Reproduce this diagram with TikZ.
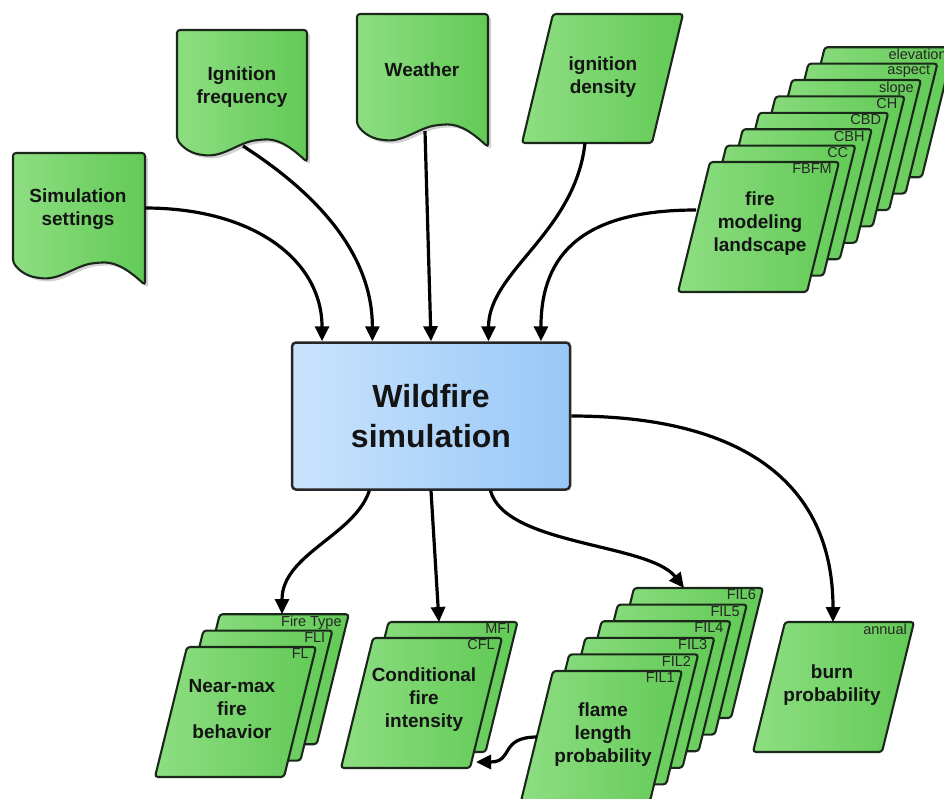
\documentclass[tikz,border=0pt]{standalone}
\usepackage{fontspec}
\setmainfont{Liberation Sans}
\usetikzlibrary{arrows.meta,calc,shadows}
\definecolor{gL}{RGB}{142,222,130}
\definecolor{gR}{RGB}{98,202,86}
\definecolor{edgec}{RGB}{26,40,26}
\definecolor{bL}{RGB}{202,227,252}
\definecolor{bR}{RGB}{152,200,248}
\tikzset{
 sheetfill/.style={draw=edgec, line width=2.1pt, rounded corners=3pt, left color=gL, right color=gR},
 docfill/.style={sheetfill, drop shadow={opacity=0.35, shadow xshift=3pt, shadow yshift=-3pt}},
 title/.style={font=\fontsize{19}{23}\selectfont\bfseries, align=center, text=black!92},
 wfbox/.style={draw=black!85, line width=2.5pt, rounded corners=4pt, left color=bL, right color=bR,
   minimum width=278pt, minimum height=147pt, inner sep=0pt,
   font=\fontsize{32}{40}\selectfont\bfseries, align=center, text=black!92},
 tag/.style={font=\fontsize{14.5}{15}\selectfont, anchor=north east, inner sep=0pt, text=black!85},
 conn/.style={line width=3.2pt, -{Triangle[length=15pt,width=14pt]}},
}
% parallelogram sheet: top-left x, y, label
\newcommand\sheetat[3]{%
 \draw[sheetfill] ({#1},{#2}) -- ++(129,0) -- ++(-32,130) -- ++(-129,0) -- cycle;
 \node[tag] at ({#1+129-7},{#2+1.5}) {#3};}
% document shape: x, y, w, h
\newcommand\docat[4]{%
 \path[docfill] ({#1},{#2+#4-23}) -- ({#1},{#2}) -- ({#1+#3},{#2}) -- ({#1+#3},{#2+#4})
  .. controls ({#1+0.85*#3},{#2+#4-18}) and ({#1+0.76*#3},{#2+#4-24}) .. ({#1+0.63*#3},{#2+#4-22})
  .. controls ({#1+0.48*#3},{#2+#4-20}) and ({#1+0.36*#3},{#2+#4-5}) .. ({#1+0.2*#3},{#2+#4-7})
  .. controls ({#1+0.1*#3},{#2+#4-9}) and ({#1+0.04*#3},{#2+#4-15}) .. ({#1},{#2+#4-23}) -- cycle;}
\begin{document}
\begin{tikzpicture}[x=1pt,y=-1pt]
\useasboundingbox (0,0) rectangle (944,798);
\clip (0,0) rectangle (944,798);
\fill[white] (0,0) rectangle (944,798);

% input documents
\docat{13}{153}{132}{132}
\node[title] (sim) at (78,209) {Simulation\\settings};
\docat{177}{30}{130}{132}
\node[title] (ifq) at (242,87) {Ignition\\frequency};
\docat{357}{14}{131}{133}
\node[title] (wea) at (422,70) {Weather};

% ignition density
\draw[sheetfill] (553,14) -- ++(130,0) -- ++(-31,129) -- ++(-130,0) -- cycle;
\node[title] (ide) at (603,77) {ignition\\density};

% landscape stack
\foreach \k/\lab in {7/elevation,6/aspect,5/slope,4/CH,3/CBD,2/CBH,1/CC,0/FBFM}
  {\sheetat{710+16.4*\k}{162-16.4*\k}{\lab}}
\node[title] (lan) at (760,224) {fire\\modeling\\landscape};

% central box
\node[wfbox] (wf) at (431,416) {Wildfire\\simulation};

% output stacks
\foreach \k/\lab in {2/Fire Type,1/FLI,0/FL}
  {\sheetat{187+16.4*\k}{647-16.4*\k}{\lab}}
\node[title] (nmx) at (232,709) {Near-max\\fire\\behavior};

\foreach \k/\lab in {1/MFI,0/CFL}
  {\sheetat{373+15.5*\k}{638-16*\k}{\lab}}
\node[title] (cfi) at (424,700) {Conditional\\fire\\intensity};

\foreach \k/\lab in {5/FIL6,4/FIL5,3/FIL4,2/FIL3,1/FIL2,0/FIL1}
  {\sheetat{553+16.2*\k}{671-16.6*\k}{\lab}}
\node[title] (flp) at (603,735) {flame\\length\\probability};

\sheetat{785}{622}{annual}
\node[title] (bup) at (832,685) {burn\\probability};

% connector end points
\coordinate (simE) at (145,208);
\coordinate (ifqS) at (243,146);
\coordinate (weaS) at (425,131);
\coordinate (ideS) at (585,143);
\coordinate (lanW) at (696,210);
\coordinate (nmxN) at (282,614);
\coordinate (cfiN) at (439,622);
\coordinate (flpN) at (684,588);
\coordinate (bupN) at (833,622);
\coordinate (flpW) at (537,737);
\coordinate (cfiSE) at (476,762);
\coordinate (wfI1) at ($(wf.north west)!0.1115!(wf.north east)$);
\coordinate (wfI2) at ($(wf.north west)!0.291!(wf.north east)$);
\coordinate (wfI3) at ($(wf.north west)!0.5!(wf.north east)$);
\coordinate (wfI4) at ($(wf.north west)!0.705!(wf.north east)$);
\coordinate (wfI5) at ($(wf.north west)!0.892!(wf.north east)$);
\coordinate (wfO1) at ($(wf.south west)!0.28!(wf.south east)$);
\coordinate (wfO2) at ($(wf.south west)!0.5!(wf.south east)$);
\coordinate (wfO3) at ($(wf.south west)!0.712!(wf.south east)$);

% inputs
\draw[conn] (simE) .. controls +(110,0) and +(0,-80) .. (wfI1);
\draw[conn] (ifqS) .. controls +(70,45) and +(0,-90) .. (wfI2);
\draw[conn] (weaS) -- (wfI3);
\draw[conn] (ideS) .. controls +(-10,90) and +(0,-70) .. (wfI4);
\draw[conn] (lanW) .. controls +(-110,0) and +(0,-90) .. (wfI5);

% outputs
\draw[conn] (wfO1) .. controls +(-15,45) and +(0,-60) .. (nmxN);
\draw[conn] (wfO2) -- (cfiN);
\draw[conn] (wfO3) .. controls +(15,55) and +(-35,-45) .. (flpN);
\draw[conn] (wf.east) .. controls +(170,0) and +(0,-140) .. (bupN);
\draw[conn] (flpW) .. controls +(-38,0) and +(38,0) .. (cfiSE);
\end{tikzpicture}
\end{document}
